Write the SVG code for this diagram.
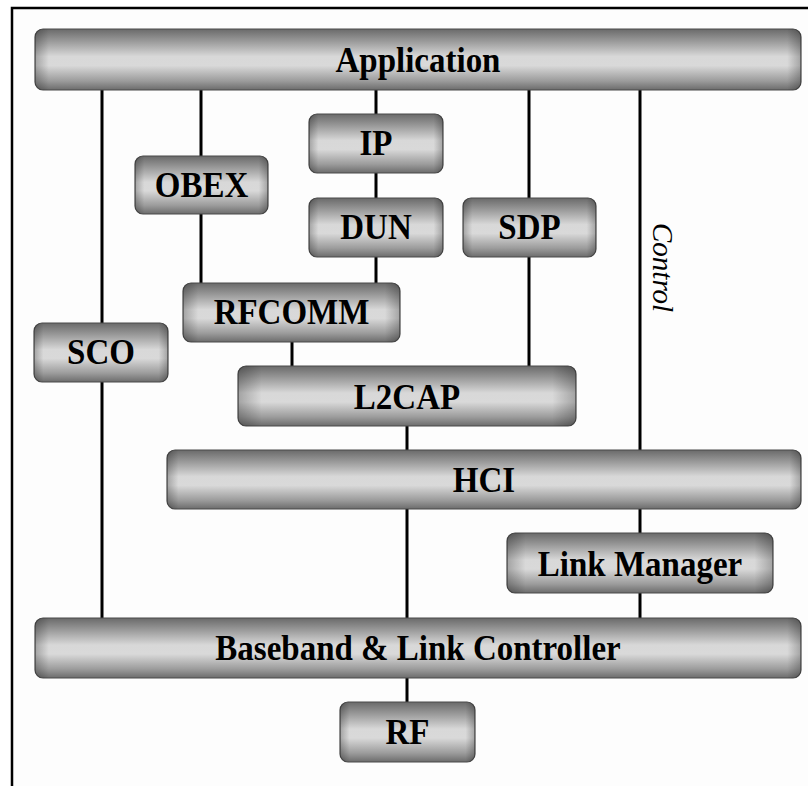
<svg xmlns="http://www.w3.org/2000/svg" width="808" height="786" viewBox="0 0 808 786">
  <defs>
    <!-- vertical bevel shading shared by all layer boxes -->
    <linearGradient id="bevel" x1="0" y1="0" x2="0" y2="1">
      <stop offset="0" stop-color="#6a6a6a"/>
      <stop offset="0.18" stop-color="#959595"/>
      <stop offset="0.45" stop-color="#d8d8d8"/>
      <stop offset="0.6" stop-color="#d9d9d9"/>
      <stop offset="0.85" stop-color="#9c9c9c"/>
      <stop offset="1" stop-color="#6c6c6c"/>
    </linearGradient>
    <!-- darkened side edges, narrow boxes -->
    <linearGradient id="edgeN" x1="0" y1="0" x2="1" y2="0">
      <stop offset="0" stop-color="#000" stop-opacity="0.25"/>
      <stop offset="0.07" stop-color="#000" stop-opacity="0"/>
      <stop offset="0.93" stop-color="#000" stop-opacity="0"/>
      <stop offset="1" stop-color="#000" stop-opacity="0.25"/>
    </linearGradient>
    <!-- darkened side edges, wide bars -->
    <linearGradient id="edgeW" x1="0" y1="0" x2="1" y2="0">
      <stop offset="0" stop-color="#000" stop-opacity="0.25"/>
      <stop offset="0.018" stop-color="#000" stop-opacity="0"/>
      <stop offset="0.982" stop-color="#000" stop-opacity="0"/>
      <stop offset="1" stop-color="#000" stop-opacity="0.25"/>
    </linearGradient>
  </defs>
  <style>
    .box { fill: url(#bevel); stroke: #4a4a4a; stroke-width: 1.2; }
    .en { fill: url(#edgeN); }
    .ew { fill: url(#edgeW); }
    .lbl { font-family: "Liberation Serif", "Times New Roman", serif; font-weight: bold; font-size: 33px; fill: #000; text-anchor: middle; }
    .ctl { font-family: "Liberation Serif", "Times New Roman", serif; font-style: italic; font-size: 29px; fill: #000; }
    .wire { stroke: #000; stroke-width: 3; fill: none; }
    .frame { stroke: #000; stroke-width: 2.5; fill: none; }
  </style>

  <rect x="0" y="0" width="808" height="786" fill="#ffffff"/>
  <rect x="12" y="8" width="796" height="778" fill="#fdfdfd"/>
  <path class="frame" d="M12,786 V8 H808"/>

  <!-- connectors -->
  <g id="connectors">
    <path class="wire" d="M102,90 V323 M102,382 V618"/>
    <path class="wire" d="M201,90 V156 M201,214 V283"/>
    <path class="wire" d="M376,90 V114 M376,173 V198 M376,257 V283"/>
    <path class="wire" d="M529,90 V198 M529,257 V366"/>
    <path class="wire" d="M640,90 V450 M640,509 V533 M640,593 V618"/>
    <path class="wire" d="M292,342 V366"/>
    <path class="wire" d="M407,426 V450 M407,509 V618 M407,678 V702"/>
    <text class="ctl" transform="translate(653,223) rotate(90)">Control</text>
  </g>

  <g id="application">
    <rect class="box" x="35" y="29" width="766" height="61" rx="8"/>
    <rect class="ew" x="35" y="29" width="766" height="61" rx="8"/>
    <text class="lbl" transform="translate(418,72) scale(1,1.08)">Application</text>
  </g>

  <g id="ip">
    <rect class="box" x="309" y="114" width="134" height="59" rx="8"/>
    <rect class="en" x="309" y="114" width="134" height="59" rx="8"/>
    <text class="lbl" transform="translate(376,155) scale(1,1.08)">IP</text>
  </g>

  <g id="obex">
    <rect class="box" x="135" y="156" width="133" height="58" rx="8"/>
    <rect class="en" x="135" y="156" width="133" height="58" rx="8"/>
    <text class="lbl" transform="translate(201.5,197) scale(1,1.08)">OBEX</text>
  </g>

  <g id="dun">
    <rect class="box" x="309" y="198" width="134" height="59" rx="8"/>
    <rect class="en" x="309" y="198" width="134" height="59" rx="8"/>
    <text class="lbl" transform="translate(376,239) scale(1,1.08)">DUN</text>
  </g>

  <g id="sdp">
    <rect class="box" x="463" y="198" width="133" height="59" rx="8"/>
    <rect class="en" x="463" y="198" width="133" height="59" rx="8"/>
    <text class="lbl" transform="translate(529.5,239) scale(1,1.08)">SDP</text>
  </g>

  <g id="rfcomm">
    <rect class="box" x="183" y="283" width="217" height="59" rx="8"/>
    <rect class="en" x="183" y="283" width="217" height="59" rx="8"/>
    <text class="lbl" transform="translate(291.5,324) scale(1,1.08)">RFCOMM</text>
  </g>

  <g id="sco">
    <rect class="box" x="34" y="323" width="134" height="59" rx="8"/>
    <rect class="en" x="34" y="323" width="134" height="59" rx="8"/>
    <text class="lbl" transform="translate(101,364) scale(1,1.08)">SCO</text>
  </g>

  <g id="l2cap">
    <rect class="box" x="238" y="366" width="338" height="60" rx="8"/>
    <rect class="en" x="238" y="366" width="338" height="60" rx="8"/>
    <text class="lbl" transform="translate(407,409) scale(1,1.08)">L2CAP</text>
  </g>

  <g id="hci">
    <rect class="box" x="167" y="450" width="634" height="59" rx="8"/>
    <rect class="ew" x="167" y="450" width="634" height="59" rx="8"/>
    <text class="lbl" transform="translate(484,492) scale(1,1.08)">HCI</text>
  </g>

  <g id="link-manager">
    <rect class="box" x="507" y="533" width="266" height="60" rx="8"/>
    <rect class="en" x="507" y="533" width="266" height="60" rx="8"/>
    <text class="lbl" transform="translate(640,576) scale(1,1.08)">Link Manager</text>
  </g>

  <g id="baseband">
    <rect class="box" x="35" y="618" width="766" height="60" rx="8"/>
    <rect class="ew" x="35" y="618" width="766" height="60" rx="8"/>
    <text class="lbl" transform="translate(418,660) scale(1,1.08)">Baseband &amp; Link Controller</text>
  </g>

  <g id="rf">
    <rect class="box" x="340" y="702" width="135" height="60" rx="8"/>
    <rect class="en" x="340" y="702" width="135" height="60" rx="8"/>
    <text class="lbl" transform="translate(407.5,744) scale(1,1.08)">RF</text>
  </g>
</svg>
